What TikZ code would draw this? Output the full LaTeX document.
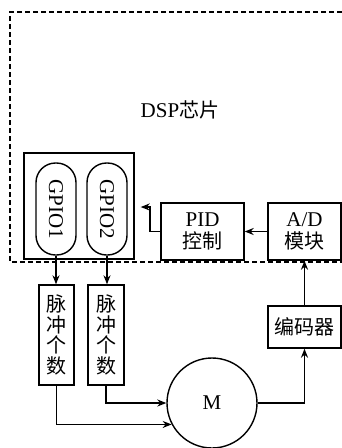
\documentclass[tikz,border=0pt]{standalone}
\usepackage{fontspec}
\setmainfont{Liberation Serif}
\newfontfamily\cjk{Noto Sans CJK SC}
\usetikzlibrary{arrows.meta,positioning,calc}

\begin{document}
\begin{tikzpicture}[x=1pt, y=-1pt, font=\fontsize{21}{22}\selectfont,
  blk/.style={draw, line width=1.4pt, inner sep=0pt, align=center},
  pill/.style={draw, line width=1.4pt, rounded corners=19.5pt, minimum width=40pt, minimum height=92pt, inner sep=0pt},
  cjkcol/.style={font=\fontsize{20}{20.5}\selectfont\cjk},
  arr/.style={line width=1.3pt, -{Stealth[length=9pt,width=7pt]}}]
\useasboundingbox (0,0) rectangle (342,448);
% chip border
\draw[line width=1.3pt, dash pattern=on 5pt off 3pt] (342,12) -- (10,12) -- (10,262) -- (342,262);
\node (dsp) at (180,110) {DSP{\fontsize{20}{22}\selectfont\cjk 芯片}};
\node[blk, minimum width=110pt, minimum height=106pt] (gpiobox) at (79,206) {};
\node[pill] (gpio1) at (56,209) {\rotatebox{-90}{GPIO1}};
\node[pill] (gpio2) at (107,209) {\rotatebox{-90}{GPIO2}};
\node[blk, minimum width=83pt, minimum height=57pt] (pid) at (202.5,231.5) {PID\\{\fontsize{20}{22}\selectfont\cjk 控制}};
\node[blk, minimum width=73pt, minimum height=57pt] (ad) at (304.5,231.5) {A/D\\{\fontsize{20}{22}\selectfont\cjk 模块}};
\node[blk, cjkcol, minimum width=35pt, minimum height=100pt] (pulse1) at (56.5,335) {脉\\冲\\个\\数};
\node[blk, cjkcol, minimum width=36pt, minimum height=100pt] (pulse2) at (106,335) {脉\\冲\\个\\数};
\node[blk, circle, minimum size=90pt] (motor) at (212,403) {M};
\node[blk, cjkcol, minimum width=73pt, minimum height=42pt] (enc) at (304.5,327) {编码器};
\coordinate (fb) at (150,207);
% signal flow
\draw[arr] (gpio1.south) -- (gpio1.south |- pulse1.north);
\draw[arr] (gpio2.south) -- (gpio2.south |- pulse2.north);
\draw[arr] (pulse2.south) |- (motor.west);
\draw[arr] (pulse1.south) |- (motor.208);
\draw[arr] (motor.east) -| (enc.south);
\draw[arr] (enc.north) -- (ad.south);
\draw[arr] (ad.west) -- (pid.east);
\draw[arr] (pid.west) -| (fb) -- ([xshift=6pt]gpiobox.east |- fb);
\end{tikzpicture}
\end{document}
